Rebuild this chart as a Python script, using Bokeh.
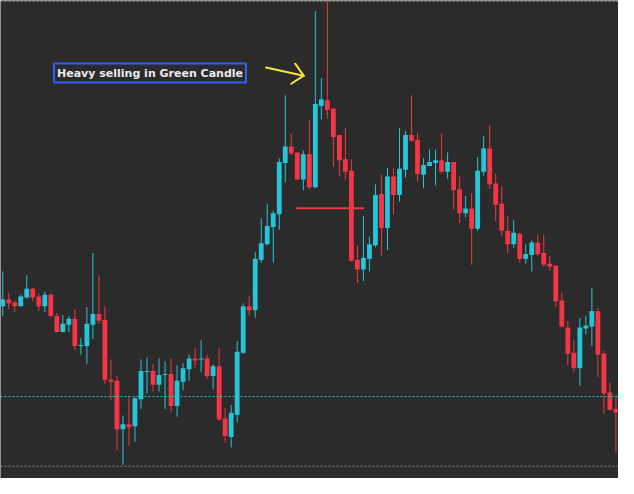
from bokeh.plotting import figure
from bokeh.models import ColumnDataSource, Range1d, Span, Label
from bokeh.embed import file_html
from bokeh.resources import INLINE

# ---- data (price units) ----
opens = [178,185,182,178,187,196,188,178,190,168,
         151.5,159,165,137,137,159,170,164,102,101,
         51,56,54,82,110,111,97,107,108,75,
         100,113,124,123,124,106,116,62,43,66,
         130,178,174,226,242,260,273,326,343,337,
         309,335,301,385,391,382,355,330,318,226,
         216,227,241,294,259,312,293,319,355,350,
         314,323,326,329,317,327,299,274,279,258,
         317,341,305,284,256,242,253,227,231,244,
         233,222,220,184,156,130,114,155,157,173,
         129,89,72]
highs = [214,192,184,190,210,197,191,193,191,171,
         169,168,175,145,177,233,210,178,123,106,
         65,84,84,123,125,118,124,121,124,117,
         119,128,135,143,128,118,135,73,76,142,
         181,189,234,269,284,277,331,396,356,337,
         339,371,483,414,493,383,355,362,330,241,
         271,250,304,314,321,321,362,359,396,357,
         331,340,340,356,337,327,312,292,295,332,
         354,365,315,302,271,267,254,242,246,252,
         252,230,220,192,163,143,166,168,197,176,
         132,99,86]
lows = [168,175,172,178,186,183,173,172,167,151,
        151,151,133,128,118,144,160,98,81,29,
        14,34,38,72,88,90,90,72,68,64,
        91,101,114,110,103,92,60,37,32,58,
        129,168,166,223,241,223,257,306,334,308,
        298,299,300,371,372,322,312,309,224,202,
        204,214,239,230,236,273,286,311,348,307,
        300,323,303,315,310,278,264,270,221,256,
        313,299,266,251,233,238,223,222,214,230,
        219,215,177,156,117,110,96,149,137,105,
        67,70,27]
closes = [185,181,178,188,196,187,178,190,168,151.5,
          160,165,137,138,160,170,163,102,100,51,
          56,53,83,111,111,97,107,108,75,101,
          114,124,122,124,106,116,61,44,68,131,
          178,174,227,243,261,274,327,343,336,309,
          335,301,387,392,381,353,329,317,225,216,
          228,242,293,259,312,293,320,355,349,315,
          324,327,329,317,327,298,274,279,258,318,
          341,304,283,256,242,254,227,232,244,232,
          221,219,183,157,129,114,156,158,173,128,
          88,71,68]

# reference levels / annotations
level_cyan = 84.7
level_top = 493.0
level_bottom = 12.7
hline_price = 279.3
hline_start, hline_end = 48.8, 60.1
note_text = "Heavy selling in Green Candle"
note_x, note_y = 24.5, 419.0
arrow_tail = (43.8, 424.7)
arrow_tip = (50.06, 416.3)
arrow_barb1 = (48.65, 428.7)
arrow_barb2 = (48.0, 408.0)

UP = "#26C6DA"
DOWN = "#F23645"
BG = "#2B2B2B"
YELLOW = "#F5E536"

idx = list(range(len(opens)))
colors = [UP if c >= o else DOWN for o, c in zip(opens, closes)]
tops = [max(o, c) for o, c in zip(opens, closes)]
bottoms = [min(o, c) for o, c in zip(opens, closes)]

src = ColumnDataSource(dict(x=idx, o=opens, h=highs, l=lows, c=closes,
                            top=tops, bottom=bottoms, color=colors))

p = figure(width=618, height=478, output_backend="svg", toolbar_location=None,
           x_range=Range1d(-0.37, 102.43), y_range=Range1d(0, 494),
           min_border=0)
p.background_fill_color = BG
p.border_fill_color = BG
p.outline_line_color = None
p.grid.visible = False
p.axis.visible = False

for loc, col in [(level_top, "#8A8A8A"), (level_bottom, "#8A8A8A"), (level_cyan, UP)]:
    p.add_layout(Span(location=loc, dimension="width", line_color=col,
                      line_width=1, line_dash="2 2"))

p.segment(x0="x", y0="l", x1="x", y1="h", color="color", line_width=1, source=src)
p.vbar(x="x", width=0.8, top="top", bottom="bottom", fill_color="color",
       line_color=None, source=src)

p.segment(x0=[hline_start], y0=[hline_price], x1=[hline_end], y1=[hline_price],
          line_color=DOWN, line_width=2)

p.add_layout(Label(x=note_x, y=note_y, text=note_text, text_align="center",
                   text_baseline="middle", text_color="#EAEAEA",
                   text_font="DejaVu Sans", text_font_style="bold",
                   text_font_size="11px", padding=3,
                   border_line_color="#2962FF", border_line_width=2,
                   background_fill_color=BG))

# yellow hand-drawn style arrow
p.segment(x0=[arrow_tail[0], arrow_barb1[0], arrow_barb2[0]],
          y0=[arrow_tail[1], arrow_barb1[1], arrow_barb2[1]],
          x1=[arrow_tip[0]] * 3, y1=[arrow_tip[1]] * 3,
          line_color=YELLOW, line_width=2, line_cap="round")

open("out.html", "w").write(file_html(p, INLINE))
